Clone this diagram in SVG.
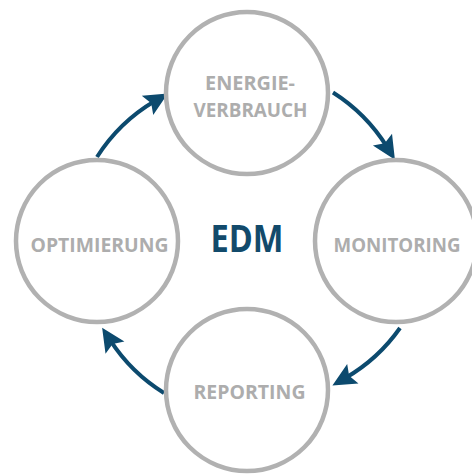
<svg xmlns="http://www.w3.org/2000/svg" width="472" height="474" viewBox="0 0 472 474">
  <style>
    .node circle { fill: #ffffff; stroke: #b1b1b1; stroke-width: 4.5; }
    .label { font-family: "Open Sans", "Liberation Sans", sans-serif; font-weight: 700; font-size: 20px; fill: #adadad; text-anchor: middle; }
    .title { font-family: "Open Sans", "Liberation Sans", sans-serif; font-weight: 700; font-size: 38px; fill: #124a6b; text-anchor: middle; }
    .conn { fill: none; stroke: #0c4a6e; stroke-width: 4; }
  </style>
  <defs>
    <marker id="head" markerUnits="userSpaceOnUse" markerWidth="30" markerHeight="30" viewBox="-2 -12 28 24" refX="8" refY="0" orient="auto">
      <path d="M0,-10.5 L22,0 L0,10.5 L4,0 Z" fill="#0c4a6e"/>
    </marker>
  </defs>
  <rect width="472" height="474" fill="#ffffff"/>
  <g id="connectors">
    <path class="conn" d="M333,92.5 A172,172 0 0 1 387,146.9" marker-end="url(#head)"/>
    <path class="conn" d="M400,328 A172,172 0 0 1 345.4,378" marker-end="url(#head)"/>
    <path class="conn" d="M164,393 A172,172 0 0 1 110.3,340.4" marker-end="url(#head)"/>
    <path class="conn" d="M97,157 A172,172 0 0 1 154.9,101" marker-end="url(#head)"/>
  </g>
  <g id="node-energieverbrauch" class="node">
    <circle cx="247" cy="93" r="81"/>
    <text class="label" x="250" y="89.5" textLength="90" lengthAdjust="spacingAndGlyphs">ENERGIE-</text>
    <text class="label" x="250.5" y="116.7" textLength="114" lengthAdjust="spacingAndGlyphs">VERBRAUCH</text>
  </g>
  <g id="node-monitoring" class="node">
    <circle cx="396" cy="241" r="81"/>
    <text class="label" x="397" y="252" textLength="127" lengthAdjust="spacingAndGlyphs">MONITORING</text>
  </g>
  <g id="node-reporting" class="node">
    <circle cx="247" cy="390" r="81"/>
    <text class="label" x="249.5" y="399" textLength="112" lengthAdjust="spacingAndGlyphs">REPORTING</text>
  </g>
  <g id="node-optimierung" class="node">
    <circle cx="97" cy="241" r="81"/>
    <text class="label" x="99.5" y="252" textLength="138" lengthAdjust="spacingAndGlyphs">OPTIMIERUNG</text>
  </g>
  <g id="node-edm">
    <text class="title" x="247" y="252" textLength="73" lengthAdjust="spacingAndGlyphs">EDM</text>
  </g>
</svg>
